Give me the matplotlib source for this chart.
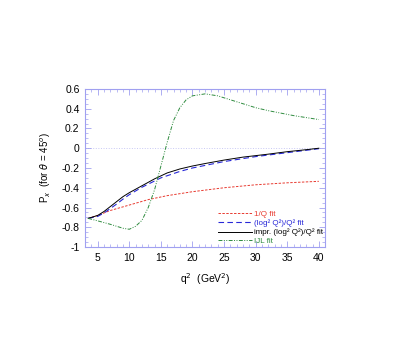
import numpy as np
import matplotlib
matplotlib.use("Agg")
import matplotlib.pyplot as plt
from matplotlib.ticker import MultipleLocator, FuncFormatter

plt.rcParams['font.family'] = ['Liberation Sans', 'DejaVu Sans']

# curves
q_red = [3.5, 5, 7, 10, 13, 16, 20, 25, 30, 35, 40]
p_red = [-0.71, -0.68, -0.63, -0.575, -0.52, -0.48, -0.44, -0.40, -0.37, -0.35, -0.335]

q_blue = [3.5, 5, 6, 7, 8, 9, 10, 12, 15, 18, 20, 25, 30, 35, 40]
p_blue = [-0.71, -0.69, -0.655, -0.61, -0.565, -0.515, -0.47, -0.395, -0.30, -0.235, -0.20, -0.135, -0.085, -0.045, -0.005]

q_black = [3.5, 5, 6, 7, 8, 9, 10, 12, 14, 16, 18, 20, 22, 25, 28, 30, 32, 35, 38, 40]
p_black = [-0.71, -0.68, -0.64, -0.59, -0.54, -0.49, -0.45, -0.38, -0.31, -0.25, -0.21, -0.18,
           -0.155, -0.12, -0.09, -0.075, -0.06, -0.035, -0.015, 0.0]

q_green = [3.5, 5, 7, 9, 10, 11, 12, 13, 14, 15, 16, 17, 18, 19, 20, 22, 24, 26, 28, 30, 32, 34, 36, 38, 40]
p_green = [-0.71, -0.735, -0.77, -0.81, -0.82, -0.79, -0.73, -0.6, -0.42, -0.18, 0.06, 0.28, 0.41,
           0.49, 0.53, 0.55, 0.53, 0.49, 0.45, 0.41, 0.38, 0.355, 0.33, 0.31, 0.29]

labels = ["1/Q fit", "(log² Q²)/Q² fit", "impr. (log² Q²)/Q² fit", "IJL fit"]

frame = '#a0a0f0'

fig = plt.figure(figsize=(4.09, 3.46), dpi=100)
ax = fig.add_axes([0.208, 0.286, 0.587, 0.457])

ax.axhline(0, color='#c8c8f4', lw=0.7, ls=':', zorder=0)
ax.plot(q_red, p_red, color='#e83a30', lw=0.7, ls=(0, (2.5, 1.5)), label=labels[0])
ax.plot(q_blue, p_blue, color='#2828d8', lw=0.8, ls=(0, (5, 3)), label=labels[1])
ax.plot(q_black, p_black, color='black', lw=0.7, label=labels[2])
ax.plot(q_green, p_green, color='#2e8b3e', lw=0.7, ls=(0, (4, 1.5, 1, 1.5, 1, 1.5)), label=labels[3])

ax.set_xlim(3, 41)
ax.set_ylim(-1, 0.6)
ax.xaxis.set_major_locator(MultipleLocator(5))
ax.xaxis.set_minor_locator(MultipleLocator(1))
ax.yaxis.set_major_locator(MultipleLocator(0.2))
ax.yaxis.set_minor_locator(MultipleLocator(0.05))
ax.yaxis.set_major_formatter(FuncFormatter(lambda v, p: '%g' % round(v, 2) if abs(v) > 1e-9 else '0'))

for s in ax.spines.values():
    s.set_color(frame)
    s.set_linewidth(0.8)
ax.tick_params(which='both', direction='in', top=True, right=True, color=frame, labelsize=7.5, pad=4)
ax.tick_params(which='major', length=4, width=0.6)
ax.tick_params(which='minor', length=2, width=0.5)

ax.set_xlabel("q$^2$  (GeV$^2$)", fontsize=7.5, labelpad=6)
ax.set_ylabel(r"P$_x$  (for $\theta$ = 45$^o$)", fontsize=7, labelpad=6)

ax.legend(loc='lower right', bbox_to_anchor=(1.0, 0.0), frameon=False, fontsize=5.8,
          labelcolor='linecolor', handlelength=4.2, handleheight=0.5, handletextpad=0.3,
          labelspacing=0.2, borderaxespad=0.15, borderpad=0.1)

fig.savefig("out.png", dpi=100)
